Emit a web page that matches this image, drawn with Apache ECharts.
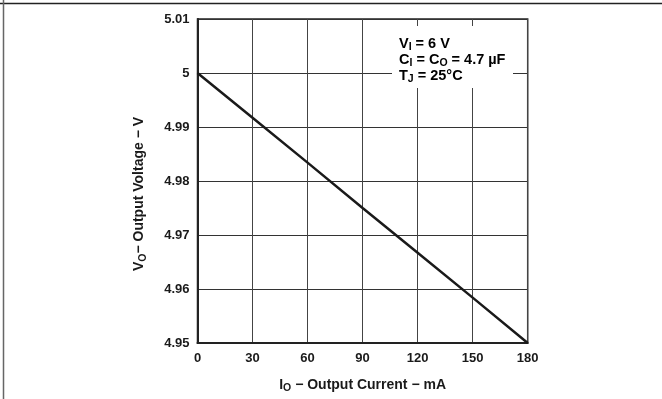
<!DOCTYPE html>
<html>
<head>
<meta charset="utf-8">
<script src="https://cdn.jsdelivr.net/npm/echarts@6/dist/echarts.min.js"></script>
<style>
html,body{margin:0;padding:0;background:#fff;}
#c{width:662px;height:399px;}
</style>
</head>
<body>
<div id="c"></div>
<script>
// Data
var currentMA = [0, 30, 60, 90, 120, 150, 180];
var outputV = [5.000, 4.9917, 4.9834, 4.9750, 4.9667, 4.9584, 4.950];
var xTicks = [0, 30, 60, 90, 120, 150, 180];
var yTicks = [4.95, 4.96, 4.97, 4.98, 4.99, 5.00, 5.01];

var FONT = '"Liberation Sans", Arial, sans-serif';
var chart = echarts.init(document.getElementById('c'), null, {renderer: 'canvas'});

var mainRich = {
  a: {fontFamily: FONT, fontWeight: 'bold', fontSize: 14, color: '#1a1a1a', lineHeight: 16},
  s: {fontFamily: FONT, fontWeight: 'bold', fontSize: 10.5, color: '#1a1a1a', lineHeight: 9, padding: [7, 0, 0, 0]}
};
var noteRich = {
  a: {fontFamily: FONT, fontWeight: 'bold', fontSize: 14.5, color: '#1a1a1a', lineHeight: 16},
  s: {fontFamily: FONT, fontWeight: 'bold', fontSize: 10.5, color: '#1a1a1a', lineHeight: 9, padding: [7, 0, 0, 0]}
};

chart.setOption({
  animation: false,
  backgroundColor: '#fff',
  grid: {left: 197.5, top: 19, right: 134.3, bottom: 49.3, show: true,
         borderColor: '#222', borderWidth: 1.5, backgroundColor: 'transparent'},
  xAxis: {
    type: 'value', min: xTicks[0], max: xTicks[xTicks.length - 1], interval: 30,
    name: '{a|I}{s|O}{a| − Output Current − mA}',
    nameLocation: 'middle', nameGap: 34,
    nameTextStyle: {rich: mainRich},
    axisLine: {show: true, lineStyle: {color: '#222', width: 2}},
    axisTick: {show: false},
    axisLabel: {margin: 9, fontFamily: FONT, fontWeight: 'bold', fontSize: 13, color: '#1a1a1a'},
    splitLine: {show: true, lineStyle: {color: '#444', width: 1}}
  },
  yAxis: {
    type: 'value', min: yTicks[0], max: yTicks[yTicks.length - 1], interval: 0.01,
    name: '{a|V}{s|O}{a|− Output Voltage − V}',
    nameLocation: 'middle', nameGap: 50, nameRotate: 90,
    nameTextStyle: {rich: mainRich, padding: [0, 26, 0, 0]},
    axisLine: {show: true, lineStyle: {color: '#222', width: 2}},
    axisTick: {show: false},
    axisLabel: {margin: 8, fontFamily: FONT, fontWeight: 'bold', fontSize: 13, color: '#1a1a1a',
      formatter: function (v) { return String(parseFloat(v.toFixed(2))); }},
    splitLine: {show: true, lineStyle: {color: '#333', width: 1}}
  },
  series: [{
    type: 'line',
    data: currentMA.map(function (x, i) { return [x, outputV[i]]; }),
    showSymbol: false, symbol: 'none',
    lineStyle: {color: '#1a1a1a', width: 2.5},
    z: 3
  }],
  graphic: [
    {type: 'line', shape: {x1: 0, y1: 3.5, x2: 662, y2: 3.5}, style: {stroke: '#222', lineWidth: 1.5}, z: 100},
    {type: 'line', shape: {x1: 3.5, y1: 0, x2: 3.5, y2: 399}, style: {stroke: '#666', lineWidth: 1.5}, z: 100},
    {type: 'rect', shape: {x: 392, y: 26, width: 121, height: 62}, style: {fill: '#fff'}, z: 50},
    {type: 'text', left: 399, top: 35, z: 60,
      style: {
        text: '{a|V}{s|I}{a| = 6 V}\n{a|C}{s|I}{a| = C}{s|O}{a| = 4.7 µF}\n{a|T}{s|J}{a| = 25°C}',
        rich: noteRich
      }}
  ]
});
</script>
</body>
</html>
